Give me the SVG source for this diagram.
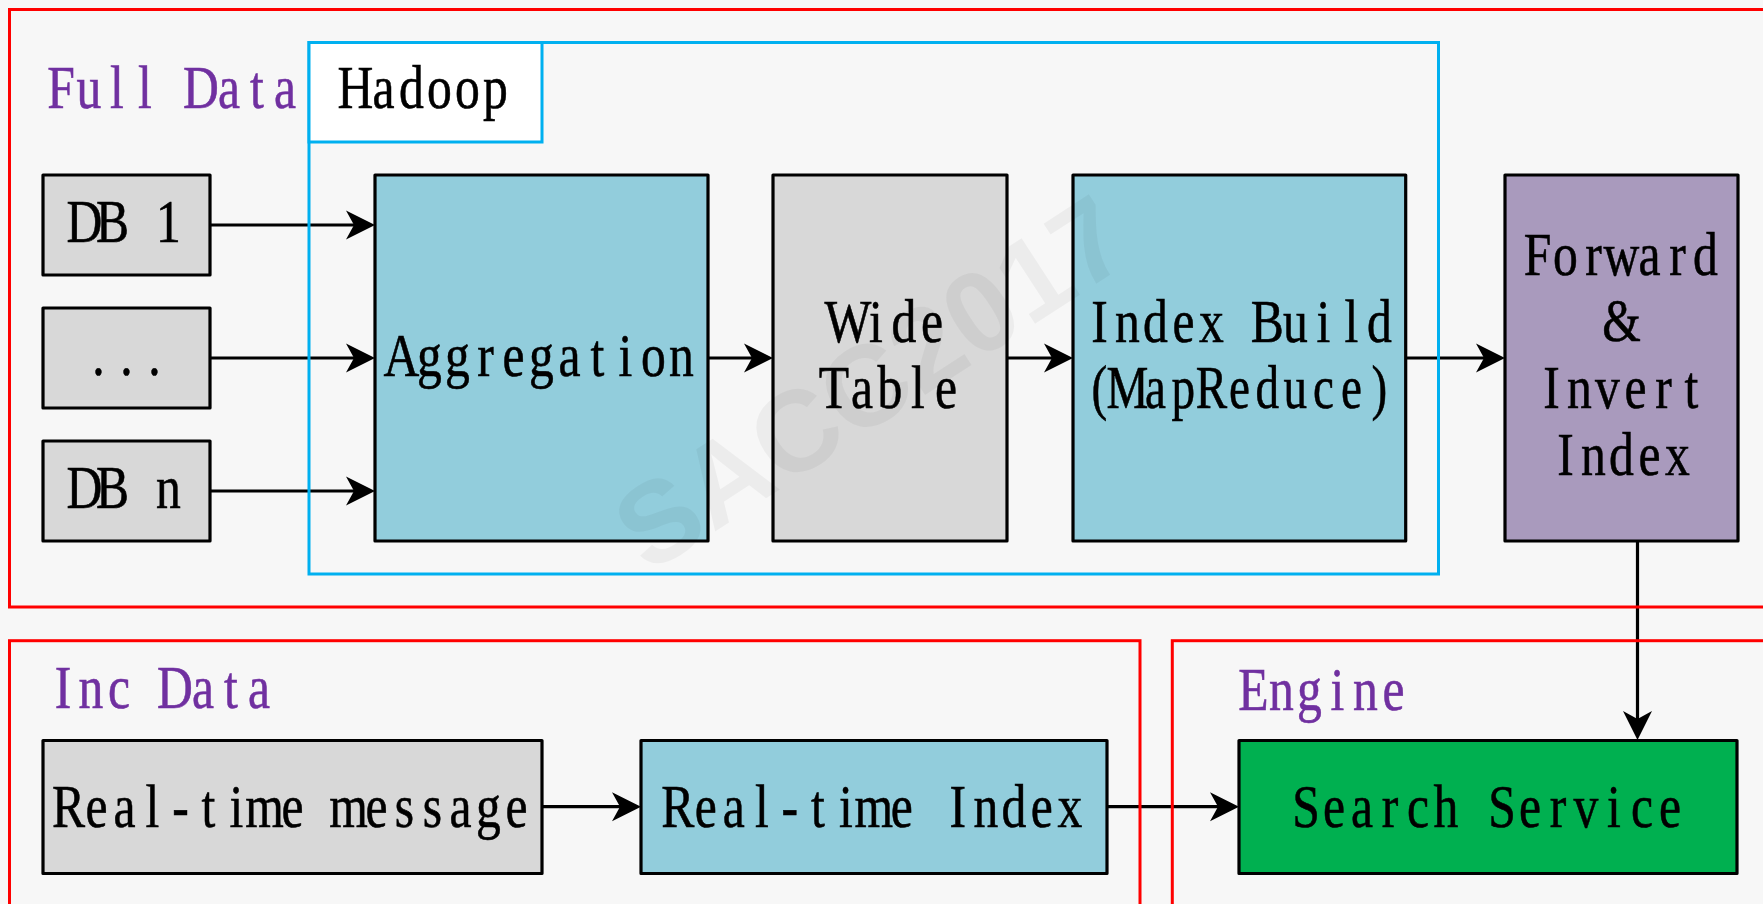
<svg xmlns="http://www.w3.org/2000/svg" width="1763" height="904" viewBox="0 0 1763 904">
<defs>
<style>
.bg{fill:#f7f7f7}
.zone{fill:none;stroke:#ff0000;stroke-width:3}
.hd{stroke:#00b0f0;stroke-width:3}
.box{stroke:#000;stroke-width:3.2;stroke-linejoin:round}
.gray{fill:#d8d8d8}
.teal{fill:#92cddc}
.purple{fill:#a99abd}
.green{fill:#00b050}
.t{font-family:"Liberation Serif","Times New Roman",serif;font-size:62px;fill:#000;stroke:#000;stroke-width:0.6;text-anchor:middle}
.zt{fill:#7030a0;stroke:#7030a0}
.edge{fill:none;stroke:#000;stroke-width:3.2;marker-end:url(#arr)}
.wm{font-family:"Liberation Sans",Arial,sans-serif;font-weight:bold;font-size:115px;fill:#000;fill-opacity:0.045;text-anchor:middle}
</style>
<marker id="arr" markerUnits="userSpaceOnUse" viewBox="0 0 30 30" markerWidth="30" markerHeight="30" refX="19" refY="15" orient="auto">
<path d="M0,0.5 L29,15 L0,29.5 L8,15 Z" fill="#000"/>
</marker>
</defs>
<rect class="bg" x="0" y="0" width="1763" height="904"/>

<g id="connectors">
<path class="edge" d="M210,225 H365"/>
<path class="edge" d="M210,358 H365"/>
<path class="edge" d="M210,491 H365"/>
<path class="edge" d="M708,358 H763"/>
<path class="edge" d="M1007,358 H1063"/>
<path class="edge" d="M1405.7,358 H1495"/>
<path class="edge" d="M1637.5,541 V730"/>
<path class="edge" d="M542,806.7 H631"/>
<path class="edge" d="M1106.7,806.7 H1229"/>
</g>

<g id="zone-full-data">
<rect class="zone" x="9.5" y="9.5" width="1800" height="597.5"/>
<text class="t zt" transform="translate(47,0) scale(0.8 1)" x="17.5 52.5 87.5 122.5 157.5 192.5 227.5 262.5 297.5" y="108">Full Data</text>
</g>
<g id="zone-hadoop">
<rect class="hd" fill="none" x="309" y="42.5" width="1129.5" height="531.5"/>
<rect class="hd" fill="#ffffff" x="309" y="42.5" width="233" height="99.5"/>
<text class="t" transform="translate(341.5,0) scale(0.8 1)" x="17.5 52.5 87.5 122.5 157.5 192.5" y="108">Hadoop</text>
</g>
<g id="zone-inc-data">
<rect class="zone" x="9.5" y="640.7" width="1130.5" height="300"/>
<text class="t zt" transform="translate(49,0) scale(0.8 1)" x="17.5 52.5 87.5 122.5 157.5 192.5 227.5 262.5" y="708.5">Inc Data</text>
</g>
<g id="zone-engine">
<rect class="zone" x="1172.3" y="640.7" width="700" height="300"/>
<text class="t zt" transform="translate(1239.5,0) scale(0.8 1)" x="17.5 52.5 87.5 122.5 157.5 192.5" y="710.5">Engine</text>
</g>

<g id="db1">
<rect class="box gray" x="43" y="175" width="167" height="100"/>
<text class="t" transform="translate(70.5,0) scale(0.8 1)" x="17.5 52.5 87.5 122.5" y="242">DB 1</text>
</g>
<g id="db-more">
<rect class="box gray" x="43" y="308" width="167" height="100"/>
<text class="t" transform="translate(84.5,0) scale(0.8 1)" x="17.5 52.5 87.5" y="375">...</text>
</g>
<g id="dbn">
<rect class="box gray" x="43" y="441" width="167" height="100"/>
<text class="t" transform="translate(70.5,0) scale(0.8 1)" x="17.5 52.5 87.5 122.5" y="508">DB n</text>
</g>
<g id="aggregation">
<rect class="box teal" x="375" y="175" width="333" height="366"/>
<text class="t" transform="translate(387.5,0) scale(0.8 1)" x="17.5 52.5 87.5 122.5 157.5 192.5 227.5 262.5 297.5 332.5 367.5" y="376">Aggregation</text>
</g>
<g id="wide-table">
<rect class="box gray" x="773" y="175" width="234" height="366"/>
<text class="t" transform="translate(834,0) scale(0.8 1)" x="17.5 52.5 87.5 122.5" y="342">Wide</text>
<text class="t" transform="translate(820,0) scale(0.8 1)" x="17.5 52.5 87.5 122.5 157.5" y="408.5">Table</text>
</g>
<g id="index-build">
<rect class="box teal" x="1073" y="175" width="332.7" height="366"/>
<text class="t" transform="translate(1085.4,0) scale(0.8 1)" x="17.5 52.5 87.5 122.5 157.5 192.5 227.5 262.5 297.5 332.5 367.5" y="342">Index Build</text>
<text class="t" transform="translate(1085.4,0) scale(0.76 1)" x="18.42 55.26 92.11 128.95 165.79 202.63 239.47 276.32 313.16 350 386.84" y="408.5">(MapReduce)</text>
</g>
<g id="forward-invert-index">
<rect class="box purple" x="1505" y="175" width="233" height="366"/>
<text class="t" transform="translate(1523.5,0) scale(0.8 1)" x="17.5 52.5 87.5 122.5 157.5 192.5 227.5" y="275">Forward</text>
<text class="t" transform="translate(1607.5,0) scale(0.8 1)" x="17.5" y="341.5">&amp;</text>
<text class="t" transform="translate(1537.5,0) scale(0.8 1)" x="17.5 52.5 87.5 122.5 157.5 192.5" y="408.5">Invert</text>
<text class="t" transform="translate(1551.5,0) scale(0.8 1)" x="17.5 52.5 87.5 122.5 157.5" y="475">Index</text>
</g>
<g id="realtime-message">
<rect class="box gray" x="43" y="740.5" width="499" height="133"/>
<text class="t" transform="translate(54.5,0) scale(0.8 1)" x="17.5 52.5 87.5 122.5 157.5 192.5 227.5 262.5 297.5 332.5 367.5 402.5 437.5 472.5 507.5 542.5 577.5" y="827">Real-time message</text>
</g>
<g id="realtime-index">
<rect class="box teal" x="641" y="740.5" width="466" height="133"/>
<text class="t" transform="translate(663.8,0) scale(0.8 1)" x="17.5 52.5 87.5 122.5 157.5 192.5 227.5 262.5 297.5 332.5 367.5 402.5 437.5 472.5 507.5" y="827">Real-time Index</text>
</g>
<g id="search-service">
<rect class="box green" x="1239" y="740.5" width="498" height="133"/>
<text class="t" transform="translate(1292,0) scale(0.8 1)" x="17.5 52.5 87.5 122.5 157.5 192.5 227.5 262.5 297.5 332.5 367.5 402.5 437.5 472.5" y="827">Search Service</text>
</g>

<text class="wm" transform="translate(870,382) rotate(-33)" x="0" y="41">SACC2017</text>
</svg>
